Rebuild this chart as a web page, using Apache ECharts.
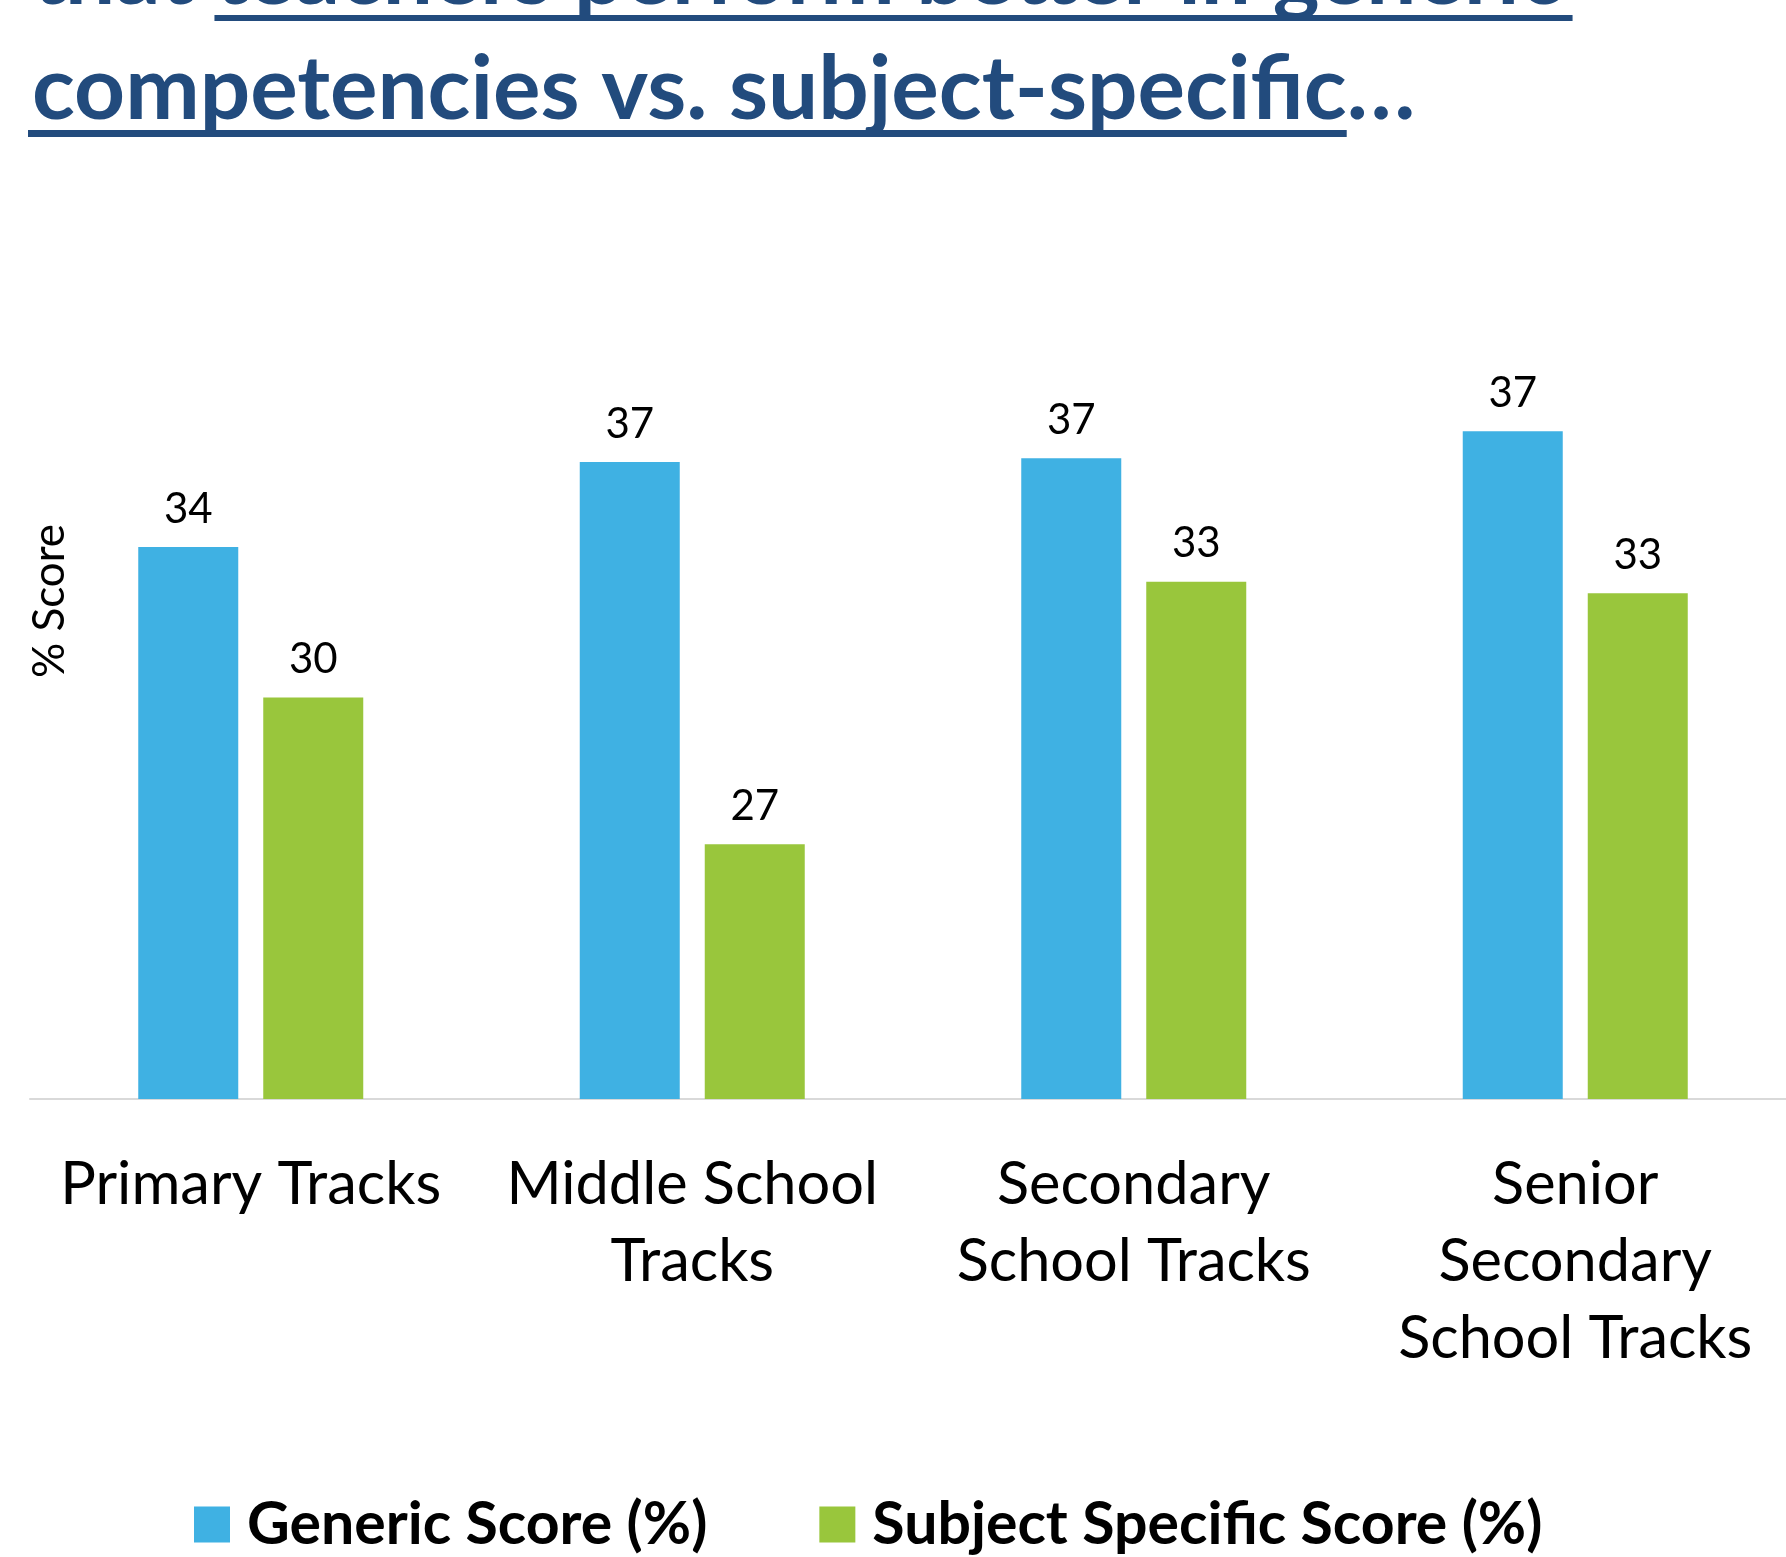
<!DOCTYPE html>
<html>
<head>
<meta charset="utf-8">
<script src="https://cdn.jsdelivr.net/npm/echarts@6/dist/echarts.min.js"></script>
<style>
  html, body { margin: 0; padding: 0; background: #fff; }
  #chart { width: 1786px; height: 1557px; }
</style>
</head>
<body>
<div id="chart"></div>
<script>
// categories and series values (labels on the chart are rounded)
const categories = ['Primary Tracks', 'Middle School\nTracks', 'Secondary\nSchool Tracks', 'Senior\nSecondary\nSchool Tracks']
const genericScore = [34.3, 36.5, 36.6, 37.3]
const subjectScore = [30.4, 26.6, 33.4, 33.1]
const seriesNames = ['Generic Score (%)', 'Subject Specific Score (%)']
const titleLine1 = ['that ', 'teachers perform better in generic']
const titleLine2 = ['competencies vs. subject-specific', '…']
const axisName = '% Score'

const BLUE = '#3FB1E3'
const GREEN = '#99C63C'
const NAVY = '#224B7D'
const FONT = 'Lato'

// measure text so the underline fits the title words
const measureCtx = document.createElement('canvas').getContext('2d')
const textWidth = (txt, size, weight) => {
  measureCtx.font = `${weight} ${size}px ${FONT}`
  return measureCtx.measureText(txt).width
}

const titleSize = 100 * 1315 / textWidth(titleLine2[0], 100, 'bold')
const titleLeft = 32

const buildTitle = () => {
  const els = []
  const lines = [
    { parts: titleLine1, y: -25, lineY: 15, lineH: 6 },
    { parts: titleLine2, y: 90, lineY: 130, lineH: 7 },
  ]
  lines.forEach((ln, i) => {
    let x = titleLeft
    ln.parts.forEach((part, j) => {
      const w = textWidth(part, titleSize, 'bold')
      els.push({
        type: 'text',
        x: x,
        y: ln.y,
        style: {
          text: part,
          fill: NAVY,
          fontFamily: FONT,
          fontWeight: 'bold',
          fontSize: titleSize,
          verticalAlign: 'middle',
        },
      })
      // line 1: skip "that", line 2: skip the ellipsis
      const underlined = (i === 0 && j === 1) || (i === 1 && j === 0)
      if (underlined) {
        els.push({
          type: 'rect',
          shape: { x: i === 1 ? x - 4 : x, y: ln.lineY, width: w + (i === 1 ? 4 : 10), height: ln.lineH },
          style: { fill: NAVY },
        })
      }
      x += w
    })
  })
  return els
}

const chart = echarts.init(document.getElementById('chart'))

const valueLabel = {
  show: true,
  position: 'top',
  distance: 17,
  color: '#000',
  fontFamily: FONT,
  fontSize: 42,
  formatter: (p) => Math.round(p.value),
}

const option = {
  animation: false,
  backgroundColor: '#fff',
  textStyle: { fontFamily: FONT },
  grid: {
    left: 30,
    top: 327,
    width: 1766,
    height: 772,
    outerBoundsMode: 'none',
    containLabel: false,
  },
  legend: {
    data: seriesNames,
    left: 194,
    top: 1495,
    padding: 0,
    icon: 'rect',
    itemWidth: 36,
    itemHeight: 36,
    itemGap: 112,
    textStyle: {
      color: '#000',
      fontFamily: FONT,
      fontWeight: 'bold',
      fontSize: 59,
      padding: [0, 0, 0, 12],
    },
  },
  xAxis: {
    type: 'category',
    data: categories,
    axisLine: { lineStyle: { color: '#D9D9D9', width: 2 } },
    axisTick: { show: false },
    axisLabel: {
      interval: 0,
      color: '#000',
      fontFamily: FONT,
      fontSize: 59.5,
      lineHeight: 77,
      margin: 47,
    },
  },
  yAxis: {
    type: 'value',
    min: 20,
    max: 40,
    show: false,
    splitLine: { show: false },
  },
  series: [
    {
      name: seriesNames[0],
      type: 'bar',
      data: genericScore,
      barWidth: 100,
      barGap: '25%',
      itemStyle: { color: BLUE },
      label: valueLabel,
    },
    {
      name: seriesNames[1],
      type: 'bar',
      data: subjectScore,
      barWidth: 100,
      itemStyle: { color: GREEN },
      label: valueLabel,
    },
  ],
  graphic: [
    ...buildTitle(),
    {
      type: 'text',
      x: 50,
      y: 601,
      rotation: Math.PI / 2,
      style: {
        text: axisName,
        fill: '#000',
        fontFamily: FONT,
        fontSize: 44,
        align: 'center',
        verticalAlign: 'middle',
      },
    },
  ],
}

chart.setOption(option)
</script>
</body>
</html>
